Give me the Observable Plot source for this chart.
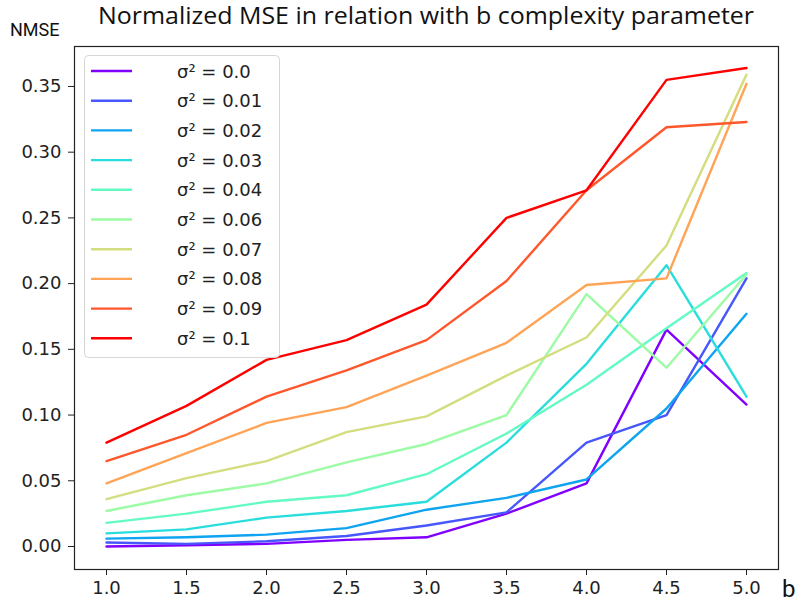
<!DOCTYPE html>
<html>
<head>
<meta charset="utf-8">
<script src="https://cdn.jsdelivr.net/npm/d3@7"></script>
<script src="https://cdn.jsdelivr.net/npm/@observablehq/plot@0.6"></script>
<style>
  html, body { margin: 0; padding: 0; background: #fff; }
</style>
</head>
<body>
<div id="chart"></div>
<script>
// ---- data ----
const bValues = [1.0, 1.5, 2.0, 2.5, 3.0, 3.5, 4.0, 4.5, 5.0];
const seriesLabels = ["σ² = 0.0", "σ² = 0.01", "σ² = 0.02", "σ² = 0.03", "σ² = 0.04",
                      "σ² = 0.06", "σ² = 0.07", "σ² = 0.08", "σ² = 0.09", "σ² = 0.1"];
const s00 = [0.000, 0.001, 0.002, 0.005, 0.007, 0.025, 0.048, 0.165, 0.108];
const s01 = [0.003, 0.002, 0.004, 0.008, 0.016, 0.026, 0.079, 0.100, 0.204];
const s02 = [0.006, 0.007, 0.009, 0.014, 0.028, 0.037, 0.051, 0.105, 0.177];
const s03 = [0.010, 0.013, 0.022, 0.027, 0.034, 0.079, 0.139, 0.214, 0.114];
const s04 = [0.018, 0.025, 0.034, 0.039, 0.055, 0.086, 0.123, 0.166, 0.208];
const s06 = [0.027, 0.039, 0.048, 0.064, 0.078, 0.100, 0.192, 0.136, 0.207];
const s07 = [0.036, 0.052, 0.065, 0.087, 0.099, 0.130, 0.159, 0.229, 0.359];
const s08 = [0.048, 0.071, 0.094, 0.106, 0.130, 0.155, 0.199, 0.204, 0.352];
const s09 = [0.065, 0.085, 0.114, 0.134, 0.157, 0.202, 0.271, 0.319, 0.323];
const s10 = [0.079, 0.107, 0.142, 0.157, 0.184, 0.250, 0.271, 0.355, 0.364];
const seriesValues = [s00, s01, s02, s03, s04, s06, s07, s08, s09, s10];
const xTicks = [1.0, 1.5, 2.0, 2.5, 3.0, 3.5, 4.0, 4.5, 5.0];
const yTicks = [0.00, 0.05, 0.10, 0.15, 0.20, 0.25, 0.30, 0.35];
const colors = ["#8000ff", "#4757fb", "#0ea4f0", "#2adddd", "#63fbc3",
                "#9cfba4", "#d4dd80", "#ffa457", "#ff572c", "#ff0000"];
const titleText = "Normalized MSE in relation with b complexity parameter";
const yLabelText = "NMSE";
const xLabelText = "b";

// ---- table ----
const rows = [];
seriesLabels.forEach((s, i) => {
  bValues.forEach((b, j) => rows.push({ b, v: seriesValues[i][j], s }));
});

const W = 799, H = 604;
const mL = 74, mR = 21, mT = 46, mB = 35;

const chart = Plot.plot({
  width: W,
  height: H,
  marginLeft: mL,
  marginRight: mR,
  marginTop: mT,
  marginBottom: mB,
  style: { fontFamily: "DejaVu Sans", background: "#fff", color: "#222", overflow: "visible" },
  x: { domain: [0.8, 5.2] },
  y: { domain: [-0.0175, 0.3804] },
  color: { domain: seriesLabels, range: colors },
  marks: [
    Plot.lineY(rows, { x: "b", y: "v", stroke: "s", z: "s", strokeWidth: 2.4, strokeLinejoin: "round" }),
    Plot.frame({ stroke: "#222", strokeWidth: 1.2 }),
    Plot.axisX({ ticks: xTicks, tickFormat: d3.format(".1f"), tickSize: 6, tickPadding: 6,
                 fontSize: 18, label: null, stroke: "#222" }),
    Plot.axisY({ ticks: yTicks, tickFormat: d3.format(".2f"), tickSize: 6, tickPadding: 7,
                 fontSize: 18, label: null, stroke: "#222" })
  ]
});

document.getElementById("chart").appendChild(chart);

const svg = d3.select(chart);
const color = chart.scale("color");

// title, axis labels
svg.append("text")
  .attr("x", (97 + 755) / 2).attr("y", 24)
  .attr("text-anchor", "middle")
  .attr("font-family", "'Open Sans', Roboto, sans-serif")
  .attr("font-size", 23.5)
  .attr("textLength", 656)
  .attr("lengthAdjust", "spacingAndGlyphs")
  .attr("fill", "#111")
  .text(titleText);
svg.append("text")
  .attr("x", 10).attr("y", 36)
  .attr("text-anchor", "start")
  .attr("font-family", "Roboto, 'Liberation Sans', sans-serif")
  .attr("font-size", 18)
  .attr("fill", "#111")
  .text(yLabelText);
svg.append("text")
  .attr("x", 782).attr("y", 597)
  .attr("text-anchor", "start")
  .attr("font-family", "Roboto, 'Liberation Sans', sans-serif")
  .attr("font-size", 24)
  .attr("fill", "#111")
  .text(xLabelText);

// legend
const lg = svg.append("g");
lg.append("rect")
  .attr("x", 84.5).attr("y", 55.5).attr("width", 195).attr("height", 302)
  .attr("rx", 4).attr("fill", "#fff").attr("fill-opacity", 0.8)
  .attr("stroke", "#d6d6d6").attr("stroke-width", 1);
seriesLabels.forEach((s, i) => {
  const y = 71 + i * 29.7;
  lg.append("line")
    .attr("x1", 91).attr("x2", 132).attr("y1", y).attr("y2", y)
    .attr("stroke", color.apply(s)).attr("stroke-width", 2.4);
  lg.append("text")
    .attr("x", 177).attr("y", y + 6.5)
    .attr("text-anchor", "start")
    .attr("font-family", "DejaVu Sans")
    .attr("font-size", 18)
    .attr("fill", "#222")
    .text(s);
});
</script>
</body>
</html>
